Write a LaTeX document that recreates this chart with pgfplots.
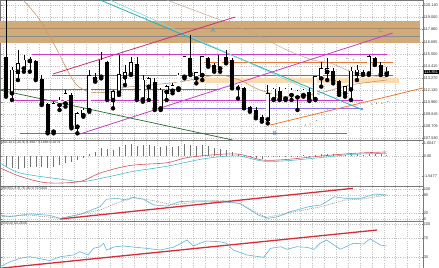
\documentclass[border=0pt]{standalone}
\usepackage{fontspec}
\setmainfont{Liberation Sans}
\usepackage{pgfplots}
\usepackage{pgfplotstable}
\pgfplotsset{compat=1.18}
\definecolor{tanband}{RGB}{208,170,120}
\definecolor{tanline}{RGB}{175,140,100}
\definecolor{mag}{RGB}{200,60,200}
\definecolor{crim}{RGB}{205,45,120}
\definecolor{teal1}{RGB}{40,175,180}
\definecolor{cyan1}{RGB}{130,215,230}
\definecolor{dgreen}{RGB}{40,105,50}
\definecolor{ggray}{RGB}{100,125,100}
\definecolor{orng}{RGB}{235,120,50}
\definecolor{peach}{RGB}{250,218,175}
\definecolor{violet1}{RGB}{140,110,235}
\definecolor{ma1}{RGB}{205,150,100}
\definecolor{ma2}{RGB}{190,165,145}
\definecolor{macdred}{RGB}{215,80,95}
\definecolor{macdcyan}{RGB}{70,190,210}
\definecolor{trendred}{RGB}{215,45,55}
\definecolor{stochc}{RGB}{95,180,215}
\definecolor{gridc}{RGB}{195,195,195}
\definecolor{sepc}{RGB}{120,120,120}

\pgfplotstableread{
i o h l c
1 111.83 114.34 111.20 113.87
2 113.87 115.92 113.08 114.50
3 114.19 115.45 113.87 114.82
4 114.88 115.29 113.87 114.91
8 108.21 111.04 108.05 110.72
9 110.72 111.51 110.25 111.04
10 110.88 112.14 110.57 111.67
12 108.68 110.09 108.05 109.78
13 109.78 110.41 109.62 110.09
14 110.25 114.03 110.09 113.34
16 113.40 115.76 113.24 114.82
18 111.20 112.14 110.41 111.83
19 111.89 115.45 111.67 113.46
20 113.34 114.50 112.61 113.65
21 113.65 115.29 113.56 114.56
23 111.26 113.56 111.04 112.93
24 112.46 113.40 111.20 113.08
26 110.41 112.30 110.25 111.98
27 111.98 112.61 111.20 112.30
28 112.08 112.77 111.83 112.39
29 112.30 113.71 112.14 113.40
30 113.40 115.29 113.24 115.13
32 113.24 113.87 112.77 113.65
33 113.56 115.29 113.08 115.13
36 114.19 115.45 113.87 115.29
44 109.37 112.61 108.99 111.67
45 111.29 112.30 111.20 112.08
47 111.35 112.30 111.20 112.08
48 111.67 112.30 111.20 111.98
49 111.45 112.14 110.25 111.89
50 111.67 112.20 111.51 111.98
52 111.29 113.40 111.20 113.24
53 113.24 114.82 112.46 114.03
54 113.87 115.13 113.08 114.03
57 111.83 112.46 111.51 112.30
58 112.20 114.34 111.20 113.78
59 113.65 114.50 113.08 113.87
61 113.71 115.45 113.56 115.13
64 113.71 114.34 113.56 113.78
}\bull

\pgfplotstableread{
i o h l c
0 115.29 120.60 111.51 111.67
5 114.88 114.97 113.08 113.18
6 113.15 113.56 110.72 110.82
7 110.79 110.88 108.05 108.21
11 111.67 111.83 108.52 108.68
15 113.40 113.71 112.93 112.99
17 114.82 114.91 111.20 111.26
22 114.56 115.29 111.20 111.26
25 112.93 113.24 110.25 110.41
31 115.13 117.33 113.56 113.71
34 115.13 115.29 114.34 114.50
35 114.50 114.66 113.87 114.03
37 115.29 115.92 114.66 114.82
38 114.97 115.13 112.30 112.46
39 112.46 112.61 111.35 112.30
40 112.30 112.46 110.41 110.57
41 110.57 110.63 110.09 110.25
42 110.25 110.57 109.47 109.62
43 109.62 109.78 109.15 109.37
46 112.08 112.46 111.20 111.29
51 111.98 112.30 111.10 111.20
55 113.97 114.19 112.77 113.02
56 112.99 113.08 111.67 111.89
60 113.87 114.03 113.56 113.65
62 115.13 115.29 114.50 114.66
63 114.50 114.82 113.56 113.65
}\bear

\pgfplotstableread{
i h
0 -0.85
1 -0.9
2 -0.95
3 -0.9
4 -0.85
5 -0.8
6 -0.85
7 -0.9
8 -0.8
9 -0.65
10 -0.5
11 -0.45
12 -0.3
13 -0.15
14 0.15
15 0.35
16 0.6
17 0.55
18 0.5
19 0.7
20 0.85
21 0.95
22 0.8
23 0.85
24 0.9
25 0.75
26 0.7
27 0.75
28 0.7
29 0.8
30 0.95
31 0.85
32 0.8
33 0.85
34 0.75
35 0.65
36 0.55
37 0.45
38 0.3
39 0.15
40 0.02
41 -0.1
42 -0.15
43 -0.2
44 -0.1
45 -0.05
46 -0.05
47 0.02
48 0.05
49 0.05
50 0.08
51 0.05
52 0.12
53 0.18
54 0.2
55 0.15
56 0.08
57 0.08
58 0.12
59 0.15
60 0.12
61 0.2
62 0.2
63 0.15
64 0.12
}\macdhist

\pgfplotsset{
  panel/.style={
    scale only axis, width=423bp, xmin=-1.01, xmax=70.1,
    anchor=north west,
    axis line style={sepc, line width=0.9bp},
    xtick={-0.5,1.5,...,69.5}, xticklabels={},
    xmajorgrids, ymajorgrids,
    grid style={gridc, dash pattern=on 1bp off 1.2bp, line width=0.4bp},
    yticklabel pos=right,
    major tick length=1.5bp,
    xtick style={draw=none},
    ytick style={sepc, line width=0.4bp},
    yticklabel style={font=\fontsize{3.9}{4}\selectfont, inner sep=0.6bp, text=black!80},
    clip mode=individual,
  },
  wick/.style={black, only marks, mark=none, forget plot,
    error bars/.cd, y dir=plus, y explicit, error mark=none,
    error bar style={black, line width=0.55bp}},
}

\begin{document}
\begin{tikzpicture}
\path[use as bounding box] (0,-268bp) rectangle (439bp,0);

% ---------------- main price panel
\begin{axis}[panel, at={(0,0)}, height=140bp, ymin=107.418, ymax=120.64,
  ytick={120.14,119.00,117.86,116.695,115.55,114.41,113.27,112.13,110.98,109.845,108.705,107.58},
  yticklabels={120.140,119.000,117.860,116.695,115.550,114.410,113.270,112.130,110.980,109.845,108.705,107.580}]
% resistance zone
\addplot[fill=tanband, draw=none] coordinates {(-1.01,118.69) (69.6,118.69) (69.6,116.55) (-1.01,116.55)} --cycle;
\addplot[tanline, line width=0.4bp] coordinates {(-1.01,117.96) (69.6,117.96)};
\addplot[black!45, line width=0.5bp] coordinates {(-1.01,117.24) (69.6,117.24)};
% peach band
\addplot[fill=peach, draw=none] coordinates {(32,113.27) (66,113.27) (66,112.80) (32,112.80)} --cycle;
% horizontal levels
\addplot[ggray, line width=0.6bp] coordinates {(-1.01,112.2) (36,112.2)};
\addplot[mag, line width=0.7bp] coordinates {(4.4,115.51) (64,115.51)};
\addplot[mag, line width=0.7bp] coordinates {(7.7,113.53) (65,113.53)};
\addplot[mag, line width=0.7bp] coordinates {(1.2,111.20) (60,111.20)};
\addplot[violet1, line width=0.7bp] coordinates {(26.4,110.41) (60,110.41)};
\addplot[mag, line width=0.7bp] coordinates {(2.4,108.05) (57.3,108.05)};
\addplot[orng, line width=0.6bp] coordinates {(32.6,114.72) (65,114.72)};
% moving averages
\addplot[ma2, line width=0.5bp, smooth] coordinates {(27,120.64) (36,118.75) (41.5,117.52) (47.2,115.92) (51.6,114.97) (54.5,114.69) (58.3,113.84) (64,113.27)};
\addplot[ma1, line width=0.6bp, smooth] coordinates {(2.9,120.64) (5.7,118.75) (8.6,115.92) (10.3,114.03) (11.9,112.61) (14.1,111.95) (17.5,111.95) (19.2,112.33) (24.2,112.61) (29.2,112.9) (32.6,113.27) (36,113.56) (39.3,113.08) (42.7,112.14) (47.7,111.48) (52.8,111.86) (57.8,112.61) (64,113.08)};
% trend lines
\addplot[dgreen, line width=0.7bp] coordinates {(-1.01,112.14) (38.1,107.42)};
\addplot[teal1, line width=0.8bp] coordinates {(15.8,120.64) (60,110.25)};
\addplot[cyan1, line width=0.6bp] coordinates {(17.5,120.64) (52.8,111.67)};
\addplot[crim, line width=0.8bp] coordinates {(7.9,113.65) (38.5,119.03)};
\addplot[mag, line width=0.8bp] coordinates {(11.9,107.89) (65,117.52)};
\addplot[orng, line width=0.8bp] coordinates {(44.4,108.83) (70.1,112.33)};
% dots
\addplot[only marks, mark=*, mark size=0.35bp, black!45] coordinates {(26.4,115.26) (27.5,115.6) (50.3,108.83) (51.1,108.93) (52.2,109.25) (53.1,109.78) (54.1,110.25) (57.3,115.13) (58.4,115.04) (61.5,110.82) (62.3,110.85) (63.2,110.88) (64.2,111.04)};
% candles
\addplot[wick] table[x=i, y=l, y error plus expr={\thisrow{h}-\thisrow{l}}] {\bull};
\addplot[wick] table[x=i, y=l, y error plus expr={\thisrow{h}-\thisrow{l}}] {\bear};
\addplot[black, only marks, mark=none, error bars/.cd, y dir=plus, y explicit, error mark=none,
  error bar style={black, line width=4bp}]
  table[x=i, y=c, y error plus expr={\thisrow{o}-\thisrow{c}}] {\bear};
\addplot[black, only marks, mark=none, error bars/.cd, y dir=plus, y explicit, error mark=none,
  error bar style={black, line width=3.8bp, line cap=rect}]
  table[x=i, y=o, y error plus expr={\thisrow{c}-\thisrow{o}}] {\bull};
\addplot[black, only marks, mark=none, error bars/.cd, y dir=plus, y explicit, error mark=none,
  error bar style={white, line width=2.8bp, line cap=rect}]
  table[x=i, y=o, y error plus expr={\thisrow{c}-\thisrow{o}}] {\bull};
\node[font=\fontsize{6}{6}\selectfont, text={rgb,255:red,60;green,150;blue,200}] at (axis cs:34.8,117.81) {A};
\node[font=\fontsize{6}{6}\selectfont, text={rgb,255:red,50;green,120;blue,220}] at (axis cs:45.2,108.08) {B};
\node[font=\fontsize{6}{6}\selectfont, text={rgb,255:red,60;green,170;blue,150}] at (axis cs:63,117.81) {C};
\end{axis}
\node[fill=black, text=white, font=\fontsize{3.9}{4}\selectfont, inner sep=0.6bp, anchor=west] at (423.5bp,-71.9bp) {113.851};

% ---------------- MACD
\begin{axis}[panel, at={(0,-140bp)}, height=46bp, ymin=-2.3, ymax=1.25,
  ytick={1.0047,0,-1.5477}, yticklabels={1.0047,0.00,-1.5477}, ymajorgrids=false,
  extra y ticks={0}, extra y tick labels={}, extra y tick style={grid=major}]
\addplot[ycomb, black!55, line width=0.45bp] table[x=i, y=h] {\macdhist};
\addplot[macdcyan, line width=0.6bp, smooth] coordinates {(-1,-0.51) (2.4,-1.30) (10.2,-1.83) (13,-1.96) (17.5,-1.56) (21.4,-1.17) (27,-0.78) (32.6,-0.25) (36,-0.04) (39.3,0.01) (43.2,-0.38) (47.2,-0.35) (52.8,-0.11) (58.4,0.146) (64,0.22)};
\addplot[macdred, line width=0.6bp, smooth] coordinates {(-1,-0.90) (2.4,-1.56) (6.8,-2.05) (12.4,-1.96) (15.8,-1.30) (20.8,-0.72) (27,-0.51) (30.4,-0.11) (36,0.146) (39.3,0.146) (43.2,-0.30) (47.2,-0.25) (52.8,0.01) (58.4,0.22) (64,0.33)};
\node[anchor=north west, font=\fontsize{3.5}{4}\selectfont, inner sep=1bp, text=black!80] at (rel axis cs:0,1) {MACD(12,26,9) 0.3987 0.1868 0.2079};
\end{axis}

% ---------------- Stochastic
\begin{axis}[panel, at={(0,-186bp)}, height=35bp, ymin=-6.7, ymax=110,
  ytick={100,80,20,0}, yticklabels={100,80,20,0}]
\addplot[trendred, line width=1.3bp] coordinates {(9.1,0) (58.3,102.3)};
\addplot[black!50, line width=0.5bp, dash pattern=on 1bp off 1bp] coordinates {(-1,8) (4,13) (9.1,2) (15.8,30) (21,72) (24.3,63) (28.1,47) (32.6,58) (36,63) (39.3,52) (43.7,5) (47.7,21) (53,41) (56.9,63) (59.7,66) (64,80)};
\addplot[stochc, line width=0.6bp] coordinates {(-1,13) (0.7,8) (4,17) (7.4,12) (9.1,2) (12.4,15) (15.8,41) (16.9,66) (18.6,69) (20.3,63) (21.4,72) (23.1,66) (24.8,47) (27,43) (29.2,58) (31.5,60) (33.7,60) (36,58) (39.3,52) (42.4,13) (44.1,2) (45.8,8) (47.7,24) (50.9,41) (53,47) (55.2,74) (56.9,69) (59.7,69) (61.9,83) (64,80)};
\node[anchor=north west, font=\fontsize{3.5}{4}\selectfont, inner sep=1bp, text=black!80] at (rel axis cs:0,1) {Stoch(5,3,3) 76.1674 76.5820};
\end{axis}

% ---------------- RSI
\begin{axis}[panel, at={(0,-221bp)}, height=47bp, ymin=7.2, ymax=107,
  ytick={100,70,30}, yticklabels={100,70,30}]
\addplot[trendred, line width=1.3bp] coordinates {(-1.01,6.6) (62.4,87.9)};
\addplot[stochc, line width=0.6bp] coordinates {(-1,10) (0.7,20.6) (2.4,27.8) (4,31.2) (7.4,22.8) (9.1,31.2) (11.3,34.8) (12.4,41.8) (13.8,34.8) (14.7,49) (15.8,52.4) (16.4,59.7) (16.9,45.4) (18.3,52.4) (19.7,53.9) (23.6,49) (25.9,45.4) (28.1,51.1) (29.2,58.2) (30.4,66.7) (31.5,53.9) (32.6,59.7) (33.7,64.5) (36,63) (37.1,59.7) (38.2,45.4) (40.5,34.8) (43.3,30) (44.5,49) (46.2,52.4) (47.2,46.9) (48.9,52.4) (50.6,51.1) (51.8,46.9) (52.8,59.7) (53.9,66.7) (56.2,46.9) (58.4,59.7) (60.1,58.2) (61.2,69.4) (62.9,56.1) (64,53.9)};
\node[anchor=north west, font=\fontsize{3.5}{4}\selectfont, inner sep=1bp, text=black!80] at (rel axis cs:0,1) {RSI(14) 64.2648};
\end{axis}
\end{tikzpicture}
\end{document}
